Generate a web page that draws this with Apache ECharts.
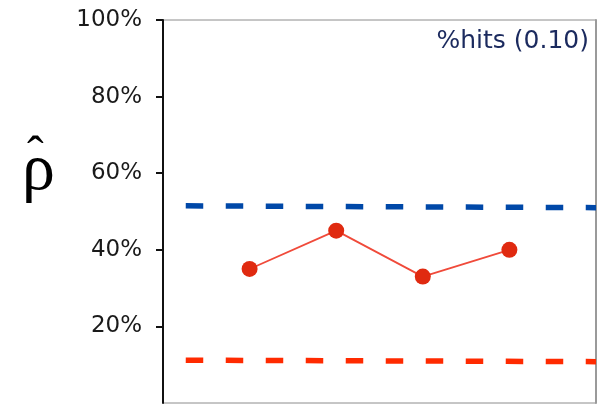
<!DOCTYPE html>
<html>
<head>
<meta charset="utf-8">
<script src="https://cdn.jsdelivr.net/npm/echarts@6/dist/echarts.min.js"></script>
<style>html,body{margin:0;padding:0;background:#fff}#c{width:603px;height:405px}</style>
</head>
<body>
<div id="c"></div>
<script>
// ---- data ----
var xPositions = [1, 2, 3, 4];
var hitValues = [35, 45, 33, 40];
var upperX = [0, 5];
var upperValues = [51.5, 51.0];
var lowerX = [0, 5];
var lowerValues = [11.2, 10.8];
var yTicks = [0, 20, 40, 60, 80, 100];
var titleText = '%hits (0.10)';

function pairs(xs, ys) { return xs.map(function (x, i) { return [x, ys[i]]; }); }

// dash style: leading gap, then dash / gap (line caps add ~half width at each end)
var dashPattern = [0, 22.75];
for (var k = 0; k < 12; k++) { dashPattern.push(17.5, 22.5); }

var chart = echarts.init(document.getElementById('c'), null, { renderer: 'canvas' });
chart.setOption({
  animation: false,
  backgroundColor: '#fff',
  title: {
    text: titleText,
    right: 14,
    top: 29,
    padding: 0,
    textStyle: { fontFamily: 'DejaVu Sans', fontSize: 25, fontWeight: 'normal', color: '#1b2a5e' }
  },
  grid: {
    left: 163, right: 7, top: 20, bottom: 2,
    show: true, borderColor: '#8c8c8c', borderWidth: 1, backgroundColor: 'transparent'
  },
  xAxis: { type: 'value', min: 0, max: 5, show: false },
  yAxis: [{
    type: 'value', min: yTicks[0], max: yTicks[yTicks.length - 1], interval: 20,
    axisLine: { show: true, lineStyle: { color: '#111', width: 2 } },
    axisTick: { show: true, length: 7, lineStyle: { color: '#111', width: 2 } },
    splitLine: { show: false },
    axisLabel: {
      formatter: '{value}%', margin: 21, fontFamily: 'DejaVu Sans', fontSize: 23,
      color: '#1a1a1a', padding: [0, 0, 6, 0], showMinLabel: false
    }
  }, {
    type: 'value', min: 0, max: 100, position: 'right',
    axisLine: { show: true, lineStyle: { color: '#9a9a9a', width: 2 } },
    axisTick: { show: false }, axisLabel: { show: false }, splitLine: { show: false }
  }],
  graphic: [
    { type: 'text', left: 22, top: 139, style: { text: 'ρ', font: '66px "Liberation Serif"', fill: '#000' } },
    { type: 'text', left: 27, top: 133, style: { text: 'ˆ', font: '50px "Liberation Serif"', fill: '#000' } }
  ],
  series: [
    {
      type: 'line', data: pairs(upperX, upperValues), symbol: 'none', silent: true,
      lineStyle: { color: '#0048a8', width: 5.5, type: dashPattern, cap: 'butt' }
    },
    {
      type: 'line', data: pairs(lowerX, lowerValues), symbol: 'none', silent: true,
      lineStyle: { color: '#ff2a00', width: 5.5, type: dashPattern, cap: 'butt' }
    },
    {
      type: 'line', data: pairs(xPositions, hitValues), symbol: 'circle', symbolSize: 16,
      itemStyle: { color: '#e02a10' },
      lineStyle: { color: '#f04a3a', width: 1.8 }
    }
  ]
});
</script>
</body>
</html>
